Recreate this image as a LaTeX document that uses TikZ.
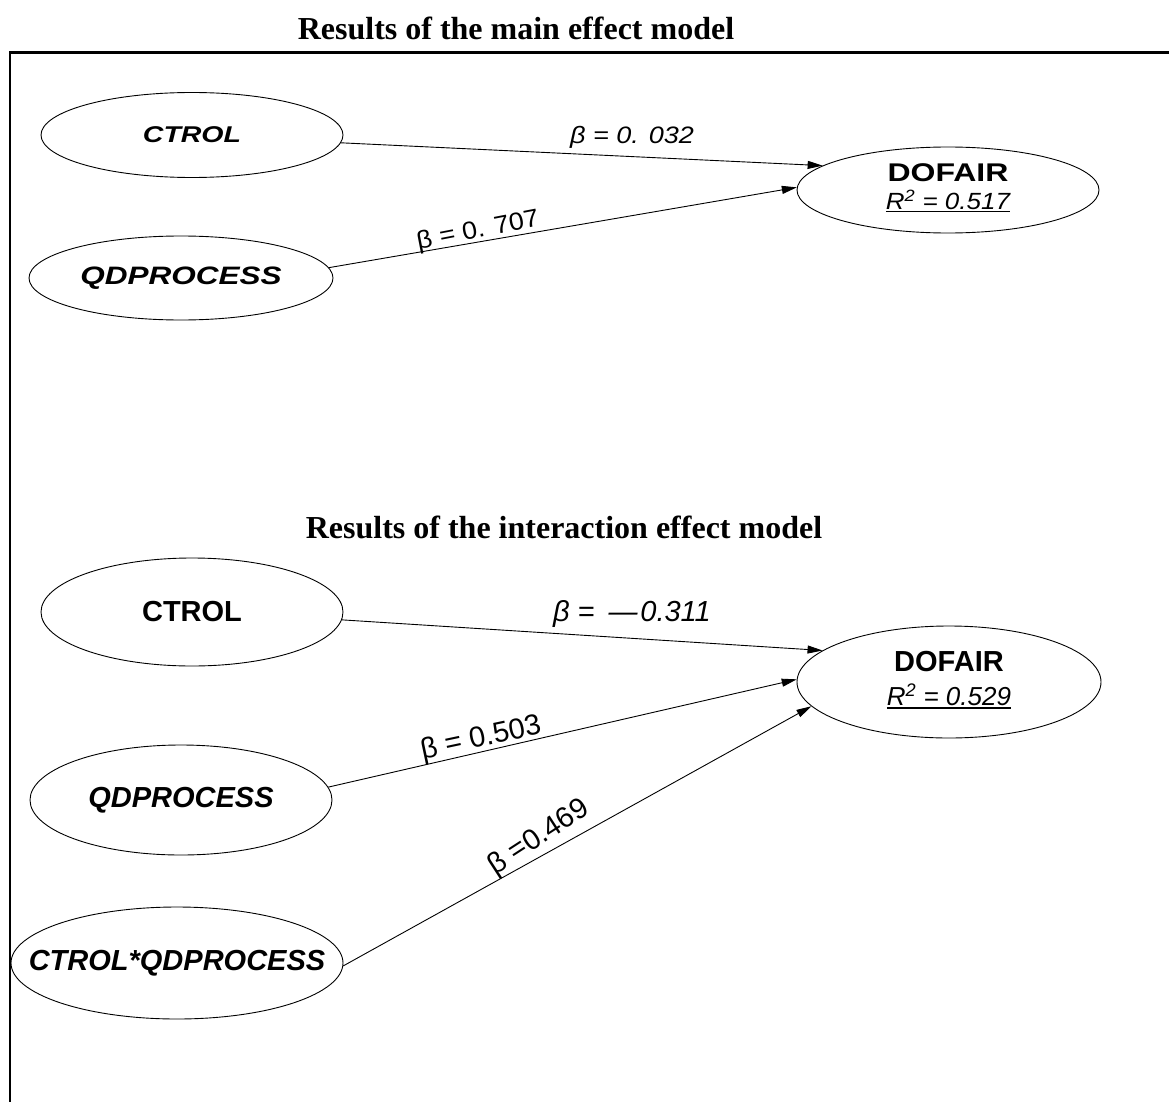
\documentclass[tikz,border=0pt]{standalone}
\usepackage{fontspec}
\usepackage{graphicx}
\setmainfont{Liberation Serif}
\setsansfont{Liberation Sans}
\usetikzlibrary{shapes.geometric,arrows.meta}

% font size in pt with matching baseline skip
\newcommand\fsz[1]{\fontsize{#1}{#1}\selectfont}
% zero-width, vertically scaled text for use inside fixed-size ellipses
\newcommand\vtext[3]{\makebox[0pt]{\scalebox{#1}[#2]{#3}}}
% thick underline set a little below the baseline
\newcommand\uln[1]{\setbox0\hbox{#1}\rlap{\rule[-3pt]{\wd0}{1.6pt}}\box0}

\begin{document}
\begin{tikzpicture}[x=1pt,y=-1pt,
  latent/.style={ellipse,draw,line width=0.9pt,inner sep=0pt},
  effect/.style={line width=0.9pt,-{Triangle[length=15pt,width=8pt]}},
  heading/.style={font=\fsz{32}\bfseries,inner sep=0pt},
  coef/.style={font=\sffamily,inner sep=0pt},
  varname/.style={font=\sffamily\bfseries\itshape}]

\useasboundingbox (0,0) rectangle (1169,1102);

% open frame: left and top sides
\draw[line width=2.5pt] (10,1102) -- (10,52.5) -- (1169,52.5);

% headings
\node[heading] (t1) at (516,28) {Results of the main effect model};
\node[heading] (t2) at (564,527) {Results of the interaction effect model};

% ---- main effect model ----
\node[latent,varname,minimum width=302pt,minimum height=85pt] (c1) at (192,135)
  {\vtext{1}{0.8}{\fsz{28.5}CTROL}};
\node[latent,varname,minimum width=304pt,minimum height=84pt] (q1) at (181,278)
  {\vtext{1}{0.8}{\fsz{31.5}QDPROCESS}};
\node[latent,font=\sffamily,minimum width=302pt,minimum height=86pt] (d1) at (948,190)
  {\raisebox{-2pt}{\fontsize{28}{28}\selectfont\begin{tabular}{@{}c@{}}%
    \vtext{1}{0.8}{\fsz{32}\bfseries DOFAIR}\\
    \vtext{1}{0.9}{\fsz{26}\itshape\uln{R\textsuperscript{2} = 0.517}}%
  \end{tabular}}};

\draw[effect] (c1.-3) -- (d1.169);
\draw[effect] (q1.4) -- (d1.179);

\node[coef,font=\sffamily\itshape] (b1) at (632,137)
  {\scalebox{1}[0.88]{\fsz{27}β = 0. 032}};
\node[coef,rotate=11] (b3) at (478,231)
  {\scalebox{1}[0.92]{\fsz{27}β = 0. 707}};

% ---- interaction effect model ----
\node[latent,font=\sffamily\bfseries,minimum width=302pt,minimum height=108pt] (c2) at (192,612)
  {\vtext{1}{1}{\fsz{29}CTROL}};
\node[latent,varname,minimum width=302pt,minimum height=110pt] (q2) at (181,800)
  {\vtext{1}{1}{\fsz{29}QDPROCESS}};
\node[latent,varname,minimum width=332pt,minimum height=112pt] (x2) at (177,963)
  {\vtext{1}{1}{\fsz{29}CTROL*QDPROCESS}};
\node[latent,font=\sffamily,minimum width=304pt,minimum height=112pt] (d2) at (949,682)
  {\raisebox{-3.5pt}{\fontsize{29}{34}\selectfont\begin{tabular}{@{}c@{}}%
    \vtext{1}{1}{\fsz{29}\bfseries DOFAIR}\\
    \vtext{1}{1}{\fsz{26}\itshape\uln{R\textsuperscript{2} = 0.529}}%
  \end{tabular}}};

\draw[effect] (c2.-3) -- (d2.166);
\draw[effect] (q2.5) -- (d2.179);
\draw[effect] (x2.-1) -- (d2.190);

\node[coef,font=\sffamily\itshape] (b2) at (632,614) {\fsz{29}β = \hspace{0.2em}—\hspace{0.1em}0.311};
\node[coef,rotate=12] (b4) at (481,739) {\fsz{29}β = 0.503};
\node[coef,rotate=33] (b5) at (539,838) {\fsz{29}β =0.469};

\end{tikzpicture}
\end{document}
